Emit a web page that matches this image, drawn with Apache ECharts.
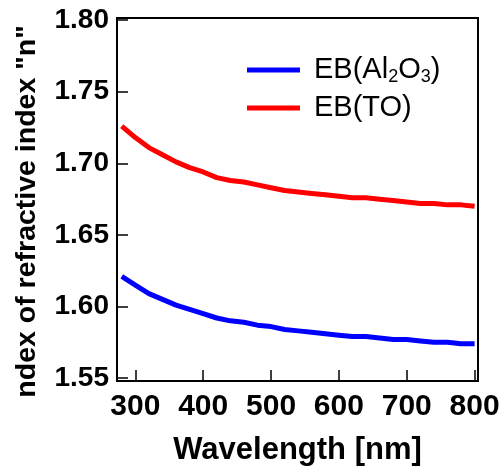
<!DOCTYPE html>
<html><head><meta charset="utf-8">
<script src="https://cdn.jsdelivr.net/npm/echarts@6/dist/echarts.min.js"></script>
<style>html,body{margin:0;padding:0;background:#fff}#c{width:504px;height:472px}</style>
</head><body><div id="c"></div>
<script>
const wavelengths = [280,300,320,340,360,380,400,420,440,460,480,500,520,540,560,580,600,620,640,660,680,700,720,740,760,780,800];
const ebTO = [1.726,1.718,1.711,1.706,1.701,1.697,1.694,1.690,1.688,1.687,1.685,1.683,1.681,1.680,1.679,1.678,1.677,1.676,1.676,1.675,1.674,1.673,1.672,1.672,1.671,1.671,1.670];
const ebAl2O3 = [1.621,1.615,1.609,1.605,1.601,1.598,1.595,1.592,1.590,1.589,1.587,1.586,1.584,1.583,1.582,1.581,1.580,1.579,1.579,1.578,1.577,1.577,1.576,1.575,1.575,1.574,1.574];
const xTicks = [300,400,500,600,700,800];
const yTicks = [1.55,1.60,1.65,1.70,1.75,1.80];
const yTitle = 'ndex of refractive index "n"';
const xTitle = 'Wavelength [nm]';

const chart = echarts.init(document.getElementById('c'));
const font = 'Liberation Sans, Arial, sans-serif';
chart.setOption({
  animation:false,
  grid:{left:117,right:26,top:18,bottom:91,show:true,borderColor:'#000',borderWidth:2,backgroundColor:'transparent'},
  legend:{
    orient:'vertical', left:247, top:54, padding:0, itemWidth:53, itemHeight:5, itemGap:6, icon:'rect',
    data:['EB(Al2O3)','EB(TO)'],
    formatter:function(n){
      if(n==='EB(Al2O3)') return '{n|EB(Al}{s|2}{n|O}{s|3}{n|)}';
      return '{n|EB(TO)}';
    },
    textStyle:{fontFamily:font,fontSize:29,color:'#000',lineHeight:32,padding:[0,0,0,9],
      rich:{n:{fontFamily:font,fontSize:29,color:'#000',lineHeight:32},s:{fontFamily:font,fontSize:18,color:'#000',verticalAlign:'bottom',lineHeight:18}}}
  },
  xAxis:{type:'value',min:273,max:805,
    axisLine:{show:true,lineStyle:{color:'#000',width:2}},
    axisTick:{show:true,inside:true,length:11,lineStyle:{color:'#000',width:1.5},customValues:xTicks},
    axisLabel:{customValues:xTicks,fontFamily:font,fontWeight:'bold',fontSize:30,color:'#000',margin:11},
    splitLine:{show:false},
    name:xTitle,nameLocation:'middle',nameGap:54,
    nameTextStyle:{fontFamily:font,fontWeight:'bold',fontSize:31,color:'#000'}
  },
  yAxis:{type:'value',min:1.548,max:1.8015,
    axisLine:{show:true,lineStyle:{color:'#000',width:2}},
    axisTick:{show:true,inside:true,length:11,lineStyle:{color:'#000',width:1.5},customValues:yTicks},
    axisLabel:{customValues:yTicks,fontFamily:font,fontWeight:'bold',fontSize:28,color:'#000',margin:8,
      formatter:function(v){return v.toFixed(2);}},
    splitLine:{show:false}
  },
  graphic:[{type:'text',x:27.5,y:211.5,rotation:Math.PI/2,
    style:{text:yTitle,fontFamily:font,fontWeight:'bold',fontSize:28.5,fill:'#000',align:'center',verticalAlign:'middle'}}],
  series:[
    {name:'EB(Al2O3)',type:'line',data:wavelengths.map((w,i)=>[w,ebAl2O3[i]]),showSymbol:false,smooth:false,
      lineStyle:{color:'#0000ff',width:5},itemStyle:{color:'#0000ff'}},
    {name:'EB(TO)',type:'line',data:wavelengths.map((w,i)=>[w,ebTO[i]]),showSymbol:false,smooth:false,
      lineStyle:{color:'#ff0000',width:5},itemStyle:{color:'#ff0000'}}
  ]
});
</script></body></html>
